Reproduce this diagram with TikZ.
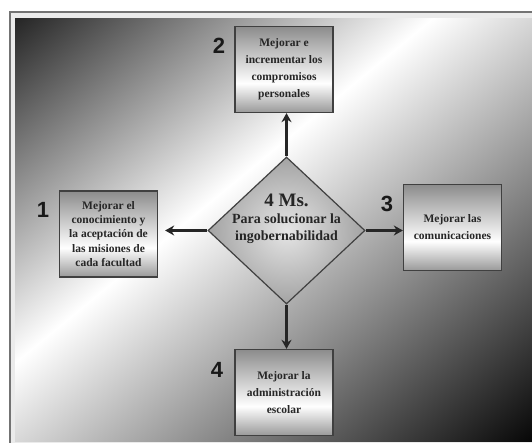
\documentclass[tikz,border=0pt]{standalone}
\usepackage{fontspec}
\setmainfont{Liberation Serif}
\newfontfamily\numfont{Liberation Sans}
\usetikzlibrary{shapes.geometric,arrows.meta}

\pgfdeclarehorizontalshading{bgdiag}{100bp}{color(0bp)=(black!88); color(18.5bp)=(black!85); color(44bp)=(white); color(81.5bp)=(black!97); color(100bp)=(black)}
\pgfdeclareverticalshading{boxshade}{100bp}{color(0bp)=(black!40); color(25bp)=(black!40); color(42bp)=(white); color(75bp)=(black!45); color(100bp)=(black!45)}

\tikzset{
  box/.style={draw=black!75, line width=1.3pt, shade, shading=boxshade, minimum width=98pt, minimum height=86pt, inner sep=0pt, align=center, text=black!85, font=\bfseries\fontsize{11.5}{17}\selectfont},
  num/.style={text=black!90, font=\numfont\bfseries\fontsize{22}{22}\selectfont},
  arr/.style={draw=black!85, line width=2.2pt, -{Stealth[length=9pt,width=10pt]}},
}

\begin{document}
\begin{tikzpicture}[x=1pt,y=-1pt]
\useasboundingbox (0,0) rectangle (532,443);
% frame and background
\fill[black!8] (10,12) rectangle (532,443);
\draw[black!55, line width=1.2pt] (532,12) -- (10,12) -- (10,443);
\begin{scope}
\clip (15,19) rectangle (532,441);
\shade[shading=bgdiag, shading angle=-50.5] (13.5,-30) rectangle (533.5,490);
\end{scope}

\node[draw=black!75, line width=1.2pt, diamond, aspect=1.07, shade, inner color=black!10, outer color=black!36, minimum width=157pt, minimum height=147pt, inner sep=0pt] (c) at (286.5,230.5) {};
\node[align=center, text=black!85, font=\bfseries\fontsize{14}{17}\selectfont] (ct) at (286.5,219) {{\fontsize{19}{19}\selectfont 4 Ms.}\\Para solucionar la\\ingobernabilidad};

\node[box, font=\bfseries\fontsize{11.5}{14.3}\selectfont] (1) at (108.5,234) {Mejorar el\\conocimiento y\\la aceptación de\\las misiones de\\cada facultad};
\node[box] (2) at (284,69.5) {Mejorar e\\incrementar los\\compromisos\\personales};
\node[box] (3) at (452.5,227.5) {Mejorar las\\comunicaciones};
\node[box] (4) at (284,392.5) {Mejorar la\\administración\\escolar};

\node[num] (n1) at (43,210) {1};
\node[num] (n2) at (219,46) {2};
\node[num] (n3) at (387,204) {3};
\node[num] (n4) at (217,370) {4};

\path[arr, shorten >=7pt] (c.west) -- (c.west -| 1.east);
\path[arr] (c.north) -- (c.north |- 2.south);
\path[arr] (c.east) -- (c.east -| 3.west);
\path[arr] (c.south) -- (c.south |- 4.north);
\end{tikzpicture}
\end{document}
